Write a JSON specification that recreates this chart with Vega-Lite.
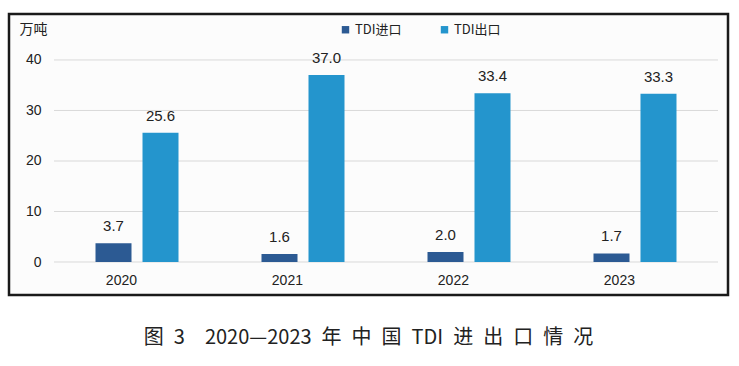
{
  "$schema": "https://vega.github.io/schema/vega-lite/v6.json",
  "width": 719,
  "height": 281,
  "autosize": "none",
  "padding": {"left": 9, "top": 14, "right": 11, "bottom": 71},
  "background": "white",
  "config": {
    "view": {"stroke": "#1a1a1a", "strokeWidth": 2.5, "fill": "#fcfcfc"},
    "font": "Liberation Sans"
  },
  "title": {
    "text": "图\u20023\u2002\u20022020—2023\u2002年\u2002中\u2002国\u2002TDI\u2002进\u2002出\u2002口\u2002情\u2002况",
    "orient": "bottom",
    "anchor": "middle",
    "offset": 33,
    "fontSize": 20,
    "fontWeight": "normal",
    "font": "Noto Sans CJK SC",
    "color": "#222222"
  },
  "datasets": {
    "bars": [
      {"year": "2020", "series": "TDI进口", "value": 3.7},
      {"year": "2020", "series": "TDI出口", "value": 25.6},
      {"year": "2021", "series": "TDI进口", "value": 1.6},
      {"year": "2021", "series": "TDI出口", "value": 37.0},
      {"year": "2022", "series": "TDI进口", "value": 2.0},
      {"year": "2022", "series": "TDI出口", "value": 33.4},
      {"year": "2023", "series": "TDI进口", "value": 1.7},
      {"year": "2023", "series": "TDI出口", "value": 33.3}
    ],
    "grid": [{"v": 0}, {"v": 10}, {"v": 20}, {"v": 30}, {"v": 40}]
  },
  "layer": [
    {
      "data": {"name": "grid"},
      "mark": {"type": "rule", "color": "#d9d9d9", "strokeWidth": 1},
      "encoding": {
        "y": {"field": "v", "type": "quantitative"},
        "x": {"datum": "2020", "type": "ordinal", "bandPosition": 0},
        "x2": {"datum": "2023", "bandPosition": 1}
      }
    },
    {
      "data": {"name": "bars"},
      "mark": {"type": "bar"},
      "encoding": {
        "x": {
          "field": "year", "type": "ordinal",
          "scale": {"paddingInner": 0, "paddingOuter": 0.1657, "align": 0.818},
          "axis": {"title": null, "orient": "bottom", "domain": false, "ticks": false, "labelAngle": 0, "labelPadding": 0, "offset": -22, "labelBaseline": "top", "labelFontSize": 14, "labelColor": "#222222", "labelFont": "Liberation Sans"}
        },
        "xOffset": {"field": "series", "type": "nominal", "sort": ["TDI进口", "TDI出口"], "scale": {"paddingInner": 0.234, "paddingOuter": 0.883}},
        "y": {
          "field": "value", "type": "quantitative",
          "scale": {"domain": [-6.53, 49.1], "nice": false, "zero": false},
          "axis": {"title": "万吨", "titleAngle": 0, "titleX": -8, "titleY": 15, "titleAlign": "center", "titleBaseline": "middle", "titleFont": "Noto Sans CJK SC", "titleFontSize": 14, "titleFontWeight": "normal", "titleColor": "#222222", "values": [0, 10, 20, 30, 40], "grid": false, "domain": false, "ticks": false, "offset": -32, "labelPadding": 0, "labelFontSize": 14, "labelColor": "#222222"}
        },
        "color": {
          "field": "series", "type": "nominal",
          "scale": {"domain": ["TDI进口", "TDI出口"], "range": ["#2c5a93", "#2495cd"]},
          "legend": {"title": null, "orient": "none", "legendX": 330, "legendY": 9, "direction": "horizontal", "symbolType": "square", "symbolSize": 55, "symbolStrokeWidth": 0, "labelFontSize": 13, "labelFont": "Noto Sans CJK SC", "labelColor": "#222222", "columnPadding": 36, "labelOffset": 3}
        }
      }
    },
    {
      "data": {"name": "bars"},
      "mark": {"type": "text", "baseline": "bottom", "dy": -9, "fontSize": 15, "color": "#222222"},
      "encoding": {
        "x": {"field": "year", "type": "ordinal"},
        "xOffset": {"field": "series", "type": "nominal", "sort": ["TDI进口", "TDI出口"]},
        "y": {"field": "value", "type": "quantitative"},
        "text": {"field": "value", "type": "quantitative", "format": ".1f"}
      }
    }
  ]
}
